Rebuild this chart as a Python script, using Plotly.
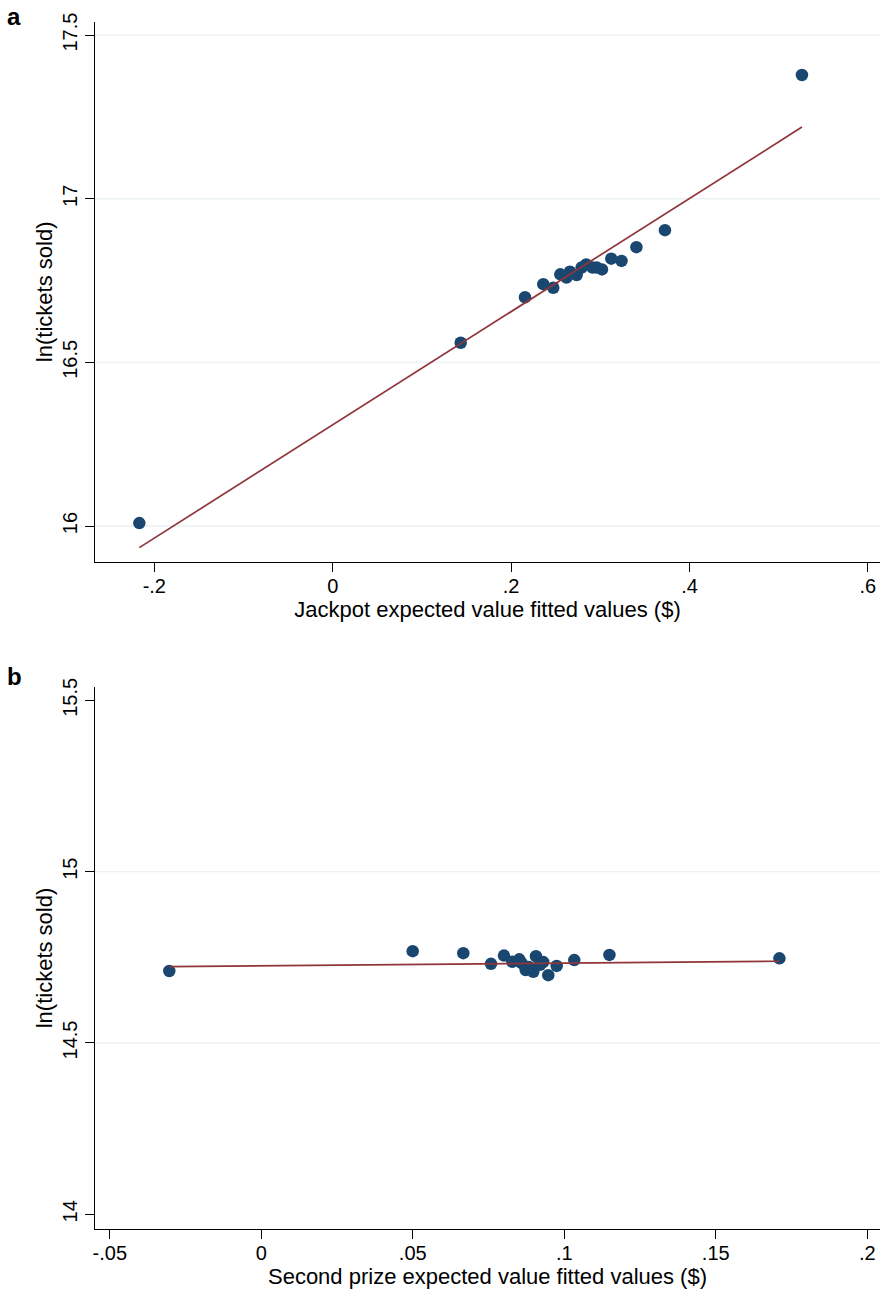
import plotly.graph_objects as go

# Panel a: jackpot expected value vs. ln(tickets sold)
jackpot_ev = [-0.2168, 0.1435, 0.2156, 0.2361, 0.2473, 0.2552, 0.2621, 0.2660, 0.2735,
              0.2791, 0.2842, 0.2913, 0.2960, 0.3019, 0.3123, 0.3238, 0.3405, 0.3725, 0.5261]
tickets_a = [16.009, 16.560, 16.699, 16.739, 16.728, 16.769, 16.759, 16.777, 16.767,
             16.790, 16.799, 16.790, 16.790, 16.784, 16.817, 16.810, 16.852, 16.904, 17.378]
fit_a_x = [-0.2168, 0.5261]
fit_a_y = [15.934, 17.219]

# Panel b: second prize expected value vs. ln(tickets sold)
second_ev = [-0.03036, 0.04997, 0.06667, 0.07581, 0.0801, 0.08284, 0.08515, 0.08594, 0.08726,
             0.08835, 0.08977, 0.09066, 0.0920, 0.09307, 0.09472, 0.09749, 0.1033, 0.1149, 0.1710]
tickets_b = [14.710, 14.768, 14.762, 14.731, 14.755, 14.737, 14.744, 14.733, 14.713,
             14.722, 14.708, 14.753, 14.728, 14.736, 14.698, 14.725, 14.742, 14.757, 14.747]
fit_b_x = [-0.03036, 0.1710]
fit_b_y = [14.7227, 14.7385]

# Axis ticks
xa_ticks = [-0.2, 0, 0.2, 0.4, 0.6]
xa_labels = ["-.2", "0", ".2", ".4", ".6"]
ya_ticks = [16, 16.5, 17, 17.5]
ya_labels = ["16", "16.5", "17", "17.5"]
xb_ticks = [-0.05, 0, 0.05, 0.1, 0.15, 0.2]
xb_labels = ["-.05", "0", ".05", ".1", ".15", ".2"]
yb_ticks = [14, 14.5, 15, 15.5]
yb_labels = ["14", "14.5", "15", "15.5"]
grid_a = [16, 16.5, 17, 17.5]
grid_b = [14.5, 15]

NAVY = "#1a476f"
MAROON = "#90353b"
GRID = "#eaf2f3"
FONT = "Liberation Sans, Arial, sans-serif"
TICK_SIZE = 20
TITLE_SIZE = 22

fig = go.Figure()

fig.add_trace(go.Scatter(x=jackpot_ev, y=tickets_a, mode="markers",
                         marker=dict(color=NAVY, size=12.5, line=dict(width=0)),
                         xaxis="x", yaxis="y", showlegend=False))
fig.add_trace(go.Scatter(x=fit_a_x, y=fit_a_y, mode="lines",
                         line=dict(color=MAROON, width=1.7),
                         xaxis="x", yaxis="y", showlegend=False))
fig.add_trace(go.Scatter(x=second_ev, y=tickets_b, mode="markers",
                         marker=dict(color=NAVY, size=12.5, line=dict(width=0)),
                         xaxis="x2", yaxis="y2", showlegend=False))
fig.add_trace(go.Scatter(x=fit_b_x, y=fit_b_y, mode="lines",
                         line=dict(color=MAROON, width=1.7),
                         xaxis="x2", yaxis="y2", showlegend=False))

shapes = []
for g in grid_a:
    shapes.append(dict(type="line", xref="x domain", yref="y", x0=0, x1=1, y0=g, y1=g,
                       line=dict(color=GRID, width=1.3), layer="below"))
for g in grid_b:
    shapes.append(dict(type="line", xref="x2 domain", yref="y2", x0=0, x1=1, y0=g, y1=g,
                       line=dict(color=GRID, width=1.3), layer="below"))

common_x = dict(showline=True, linecolor="black", linewidth=1.2, ticks="outside",
                ticklen=9, tickwidth=1.2, tickcolor="black", showgrid=False, zeroline=False,
                automargin=False, ticklabelstandoff=-3,
                tickfont=dict(family=FONT, size=TICK_SIZE, color="black"))
common_y = dict(showline=True, linecolor="black", linewidth=1.2, ticks="outside",
                ticklen=9, tickwidth=1.2, tickcolor="black", showgrid=False, zeroline=False,
                automargin=False, tickangle=-90,
                tickfont=dict(family=FONT, size=TICK_SIZE, color="black"))

fig.update_layout(
    width=885, height=1290,
    margin=dict(l=0, r=0, t=0, b=0, autoexpand=False),
    paper_bgcolor="white", plot_bgcolor="white",
    font=dict(family=FONT, color="black"),
    shapes=shapes,
    xaxis=dict(**common_x, domain=[0.10734, 0.99435], anchor="y",
               range=[-0.2665, 0.6136], tickvals=xa_ticks, ticktext=xa_labels,
               title=dict(text="Jackpot expected value fitted values ($)",
                          font=dict(family=FONT, size=TITLE_SIZE), standoff=0)),
    yaxis=dict(**common_y, domain=[0.56434, 0.98318], anchor="x",
               range=[15.890, 17.541], tickvals=ya_ticks, ticktext=ya_labels,
               title=dict(text="ln(tickets sold)", font=dict(family=FONT, size=TITLE_SIZE),
                          standoff=0)),
    xaxis2=dict(**common_x, domain=[0.10734, 0.99435], anchor="y2",
                range=[-0.05488, 0.2042], tickvals=xb_ticks, ticktext=xb_labels,
                title=dict(text="Second prize expected value fitted values ($)",
                           font=dict(family=FONT, size=TITLE_SIZE), standoff=0)),
    yaxis2=dict(**common_y, domain=[0.04752, 0.46721], anchor="x2",
                range=[13.958, 15.538], tickvals=yb_ticks, ticktext=yb_labels,
                title=dict(text="ln(tickets sold)", font=dict(family=FONT, size=TITLE_SIZE),
                           standoff=0)),
    annotations=[
        dict(text="<b>a</b>", x=5 / 885, y=1 - 1 / 1290, xref="paper", yref="paper",
             xanchor="left", yanchor="top", showarrow=False,
             font=dict(family=FONT, size=24, color="black")),
        dict(text="<b>b</b>", x=5 / 885, y=1 - 661 / 1290, xref="paper", yref="paper",
             xanchor="left", yanchor="top", showarrow=False,
             font=dict(family=FONT, size=24, color="black")),
    ],
)

fig.write_html("out.html")
